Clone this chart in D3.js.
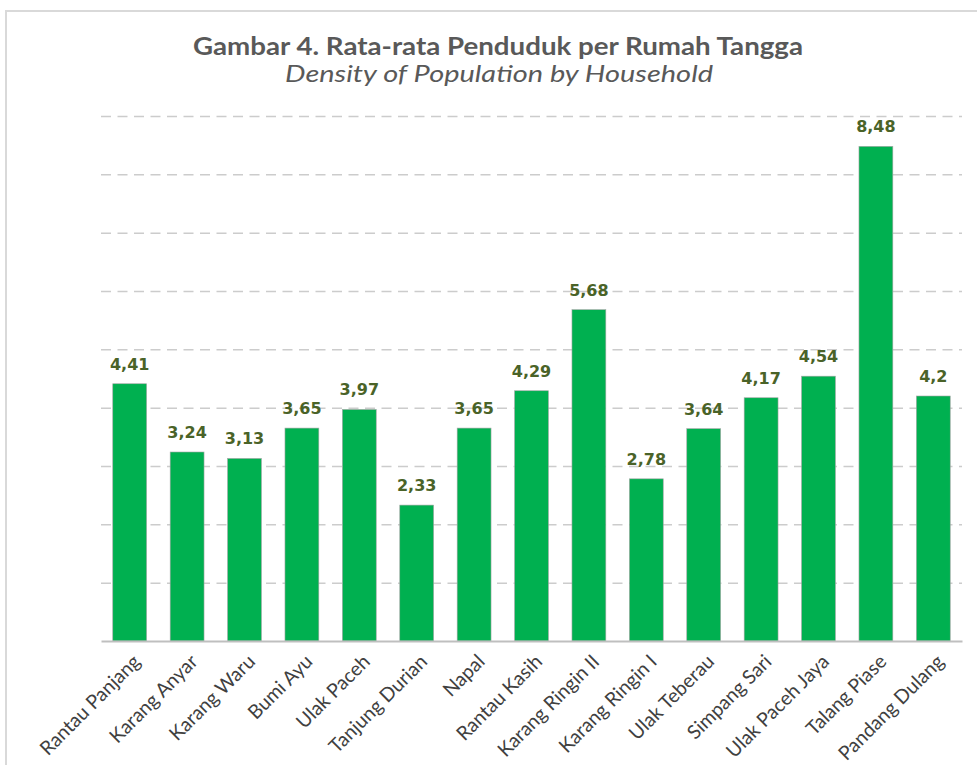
<!DOCTYPE html>
<html>
<head>
<meta charset="utf-8">
<script src="https://cdn.jsdelivr.net/npm/d3@7"></script>
<style>
  body { margin: 0; background: #fff; }
  svg { display: block; }
</style>
</head>
<body>
<div id="chart"></div>
<script>
// data
var villages = ["Rantau Panjang", "Karang Anyar", "Karang Waru", "Bumi Ayu", "Ulak Paceh",
    "Tanjung Durian", "Napal", "Rantau Kasih", "Karang Ringin II", "Karang Ringin I",
    "Ulak Teberau", "Simpang Sari", "Ulak Paceh Jaya", "Talang Piase", "Pandang Dulang"];
var density = [4.41, 3.24, 3.13, 3.65, 3.97, 2.33, 3.65, 4.29, 5.68, 2.78, 3.64, 4.17, 4.54, 8.48, 4.2];
var valueLabels = ["4,41", "3,24", "3,13", "3,65", "3,97", "2,33", "3,65", "4,29", "5,68", "2,78",
    "3,64", "4,17", "4,54", "8,48", "4,2"];
var gridTicks = [1, 2, 3, 4, 5, 6, 7, 8, 9];

// dimensions
var W = 977, H = 765;
var margin = { top: 116, right: 15, bottom: 124, left: 101 },
    width = W - margin.left - margin.right,
    height = H - margin.top - margin.bottom;

var svg = d3.select("#chart")
    .append("svg")
    .attr("width", W)
    .attr("height", H);

// chart frame (cut off at right and bottom)
svg.append("rect")
    .attr("x", 6).attr("y", 11)
    .attr("width", W + 20).attr("height", H + 20)
    .attr("fill", "#fff")
    .attr("stroke", "#d9d9d9")
    .attr("stroke-width", 2);

// titles
svg.append("text")
    .attr("x", 498).attr("y", 55)
    .attr("text-anchor", "middle")
    .attr("textLength", 610)
    .attr("lengthAdjust", "spacingAndGlyphs")
    .style("font-family", "Lato, sans-serif")
    .style("font-weight", "bold")
    .style("font-size", "25px")
    .style("fill", "#595959")
    .text("Gambar 4. Rata-rata Penduduk per Rumah Tangga");

svg.append("text")
    .attr("x", 499).attr("y", 82)
    .attr("text-anchor", "middle")
    .attr("textLength", 428)
    .attr("lengthAdjust", "spacingAndGlyphs")
    .style("font-family", "Lato, sans-serif")
    .style("font-style", "italic")
    .style("font-size", "24px")
    .style("fill", "#595959")
    .text("Density of Population by Household");

var g = svg.append("g")
    .attr("transform", "translate(" + margin.left + "," + margin.top + ")");

// scales
var x = d3.scaleBand()
    .domain(villages)
    .range([0, width])
    .paddingInner(0.41)
    .paddingOuter(0.205);

var y = d3.scaleLinear()
    .domain([0, 9])
    .range([height, 0]);

// dashed gridlines
g.append("g")
    .call(d3.axisLeft(y).tickValues(gridTicks).tickSize(-width).tickFormat(""))
    .call(function(s) { s.select(".domain").remove(); })
    .selectAll("line")
    .attr("stroke", "#cccccc")
    .attr("stroke-width", 1.5)
    .attr("stroke-dasharray", "10,6.5");

// bars
g.selectAll(".bar")
    .data(density)
    .enter()
    .append("rect")
    .attr("class", "bar")
    .attr("x", function(d, i) { return x(villages[i]); })
    .attr("y", function(d) { return y(d); })
    .attr("width", x.bandwidth())
    .attr("height", function(d) { return height - y(d); })
    .attr("fill", "#00b050")
    .attr("stroke", "#a6a6a6")
    .attr("stroke-width", 0.6);

// value labels
g.selectAll(".val")
    .data(density)
    .enter()
    .append("text")
    .attr("class", "val")
    .attr("x", function(d, i) { return x(villages[i]) + x.bandwidth() / 2; })
    .attr("y", function(d) { return y(d) - 14; })
    .attr("text-anchor", "middle")
    .style("font-family", "DejaVu Sans, sans-serif")
    .style("font-weight", "bold")
    .style("font-size", "16px")
    .style("fill", "#4a6328")
    .text(function(d, i) { return valueLabels[i]; });

// x axis
var xAxis = g.append("g")
    .attr("transform", "translate(0," + height + ")")
    .call(d3.axisBottom(x).tickSize(0).tickPadding(0));

xAxis.select(".domain")
    .attr("stroke", "#bfbfbf")
    .attr("stroke-width", 2);

xAxis.selectAll("text")
    .attr("transform", "translate(7,17) rotate(-45)")
    .attr("dy", "0.35em")
    .style("text-anchor", "end")
    .style("font-family", "Lato, sans-serif")
    .style("font-size", "19.5px")
    .style("fill", "#404040");
</script>
</body>
</html>
